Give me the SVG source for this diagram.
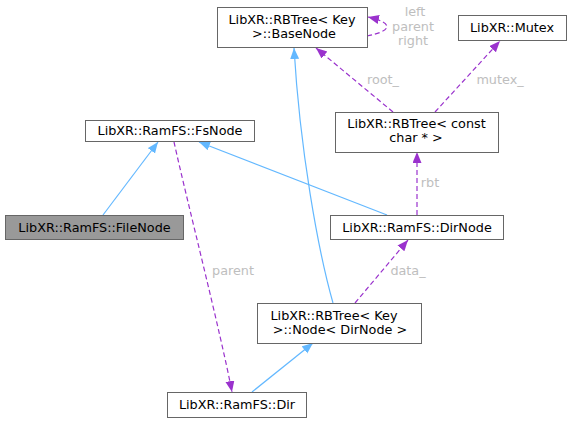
<svg xmlns="http://www.w3.org/2000/svg" width="572" height="423" viewBox="0 0 572 423">
<style>
.box{fill:#ffffff;stroke:#666666;stroke-width:1}
.hl{fill:#999999;stroke:#666666;stroke-width:1}
.t{font-family:"DejaVu Sans",sans-serif;font-size:12.8px;fill:#000000;text-anchor:middle}
.lbl{font-family:"DejaVu Sans",sans-serif;font-size:12.8px;fill:#bebebe;text-anchor:middle}
.blue{fill:none;stroke:#63b8ff;stroke-width:1.2;marker-end:url(#ab)}
.purple{fill:none;stroke:#9a32cd;stroke-width:1.2;stroke-dasharray:5,3;marker-end:url(#ap)}
</style>
<defs>
<marker id="ab" markerUnits="userSpaceOnUse" markerWidth="12" markerHeight="10" refX="11" refY="4.5" orient="auto">
<path d="M0,0 L11,4.5 L0,9 z" fill="#63b8ff"/>
</marker>
<marker id="ap" markerUnits="userSpaceOnUse" markerWidth="12" markerHeight="10" refX="11" refY="4.5" orient="auto">
<path d="M0,0 L11,4.5 L0,9 z" fill="#9a32cd"/>
</marker>
</defs>
<rect width="572" height="423" fill="#ffffff"/>
<g id="connectors">
<path class="blue" d="M103,215 L158,142"/>
<path class="blue" d="M387,215 L199,142"/>
<path class="purple" d="M174,142 C188,205 220,330 232,392"/>
<text class="lbl" x="233" y="275">parent</text>
<path class="blue" d="M333,303 C318,250 300,150 294,48"/>
<path class="blue" d="M252,392 L313,343"/>
<path class="purple" d="M355,303 L408,240"/>
<text class="lbl" x="408" y="275">data_</text>
<path class="purple" d="M417,215 L417,152"/>
<text class="lbl" x="430" y="187">rbt</text>
<path class="purple" d="M393,112 L316,48"/>
<text class="lbl" x="383" y="84">root_</text>
<path class="purple" d="M435,112 L500,41"/>
<text class="lbl" x="500" y="84">mutex_</text>
<path class="purple" d="M367,36 C388,32 398,24 368,17"/>
<text class="lbl" x="415" y="16">left</text>
<text class="lbl" x="413" y="30.5">parent</text>
<text class="lbl" x="413" y="45">right</text>
</g>
<g id="node-basenode">
<rect class="box" x="217.5" y="7.5" width="150" height="40"/>
<text class="t" x="292" y="24">LibXR::RBTree&lt; Key</text>
<text class="t" x="294" y="38">&gt;::BaseNode</text>
</g>
<g id="node-mutex">
<rect class="box" x="458.5" y="15.5" width="108" height="25"/>
<text class="t" x="512" y="32">LibXR::Mutex</text>
</g>
<g id="node-rbtree">
<rect class="box" x="335.5" y="112.5" width="163" height="40"/>
<text class="t" x="416.5" y="128">LibXR::RBTree&lt; const</text>
<text class="t" x="416" y="142">char * &gt;</text>
</g>
<g id="node-fsnode">
<rect class="box" x="85.5" y="120.5" width="169" height="21"/>
<text class="t" x="170" y="135">LibXR::RamFS::FsNode</text>
</g>
<g id="node-filenode">
<rect class="hl" x="5.5" y="215.5" width="178" height="24"/>
<text class="t" x="94.5" y="232">LibXR::RamFS::FileNode</text>
</g>
<g id="node-dirnode">
<rect class="box" x="330.5" y="215.5" width="173" height="24"/>
<text class="t" x="417" y="232">LibXR::RamFS::DirNode</text>
</g>
<g id="node-rbnode">
<rect class="box" x="257.5" y="303.5" width="164" height="40"/>
<text class="t" x="334" y="320">LibXR::RBTree&lt; Key</text>
<text class="t" x="340" y="334">&gt;::Node&lt; DirNode &gt;</text>
</g>
<g id="node-dir">
<rect class="box" x="167.5" y="392.5" width="139" height="25"/>
<text class="t" x="237" y="409">LibXR::RamFS::Dir</text>
</g>
</svg>
